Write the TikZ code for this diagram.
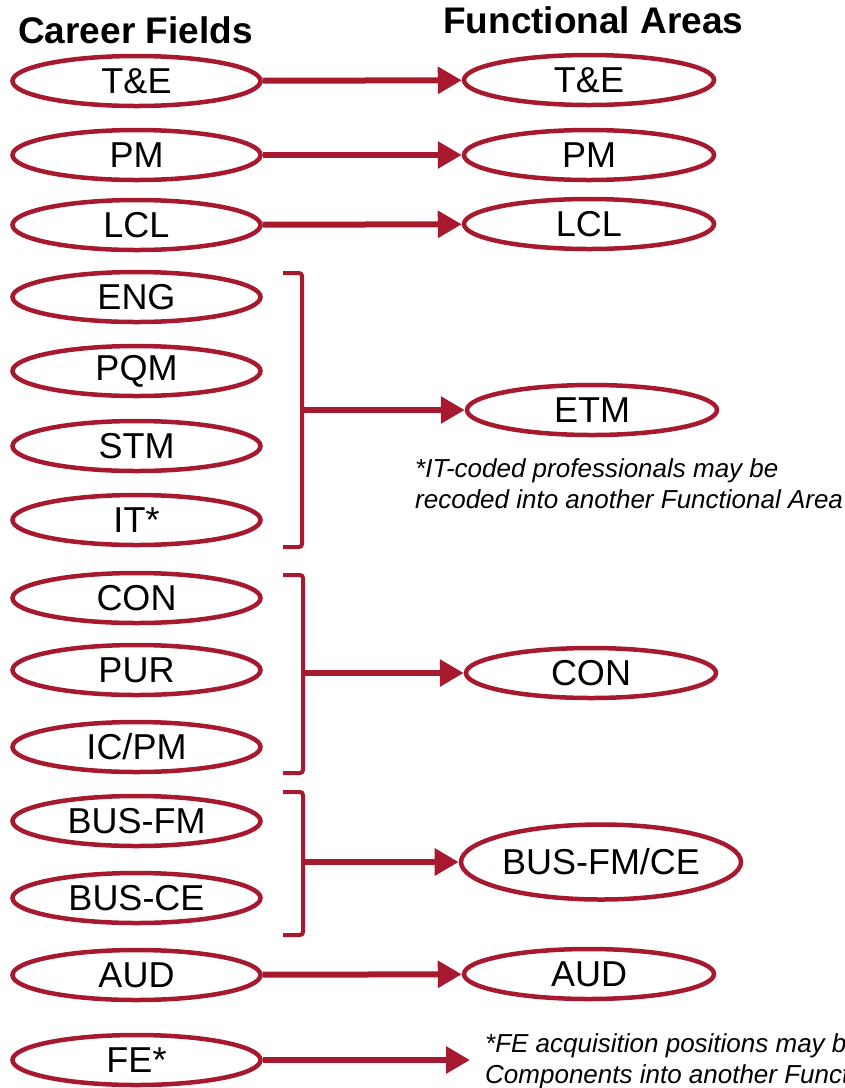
\documentclass[tikz,border=0pt]{standalone}
\usepackage{fontspec}
\setmainfont{Liberation Sans}
\usetikzlibrary{shapes.geometric,arrows.meta}
\definecolor{crimson}{RGB}{166,25,46}

\begin{document}
\begin{tikzpicture}[x=1pt,y=-1pt,
	cf/.style={ellipse,draw=crimson,line width=4.5pt,minimum width=248pt,minimum height=50pt,inner sep=0pt,font=\fontsize{36}{40}\selectfont},
	fa/.style={cf,minimum width=250pt},
	link/.style={draw=crimson,line width=6pt,-{Triangle[length=24pt,width=26pt]}},
	brace/.style={draw=crimson,line width=4pt,rounded corners=3pt},
	note/.style={align=left,anchor=base west,inner sep=0pt,font=\fontsize{26}{31}\selectfont\itshape},
	head/.style={anchor=base west,inner sep=0pt,font=\fontsize{37}{40}\selectfont\bfseries}]
	\useasboundingbox (0,0) rectangle (845,1088);
	\node[head] (cfhead) at (18,43) {Career Fields};
	\node[head] (fahead) at (443,33) {Functional Areas};
	% career fields
	\node[cf] (te) at (136.5,81) {T\&E};
	\node[cf] (pm) at (136.5,155) {PM};
	\node[cf] (lcl) at (136.5,225) {LCL};
	\node[cf] (eng) at (136.5,297) {ENG};
	\node[cf] (pqm) at (136.5,371) {PQM};
	\node[cf] (stm) at (136.5,446) {STM};
	\node[cf] (it) at (136.5,520) {IT*};
	\node[cf] (con) at (136.5,598) {CON};
	\node[cf] (pur) at (136.5,670) {PUR};
	\node[cf] (icpm) at (136.5,747) {IC/PM};
	\node[cf] (busfm) at (136.5,821) {BUS-FM};
	\node[cf] (busce) at (136.5,898) {BUS-CE};
	\node[cf] (aud) at (136.5,975) {AUD};
	\node[cf] (fe) at (136.5,1060) {FE*};
	% functional areas
	\node[fa] (fate) at (589,80) {T\&E};
	\node[fa] (fapm) at (589,155) {PM};
	\node[fa] (falcl) at (589,224) {LCL};
	\node[fa] (etm) at (592,410) {ETM};
	\node[fa] (facon) at (591,673) {CON};
	\node[fa,minimum width=263pt,minimum height=75pt] (fabus) at (601,862) {BUS-FM/CE};
	\node[fa] (faaud) at (589,974) {AUD};
	% brackets
	\draw[brace] (283,273) -- (302,273) -- (302,547) -- (283,547);
	\draw[brace] (283,575) -- (303,575) -- (303,773) -- (283,773);
	\draw[brace] (283,792) -- (303,792) -- (303,935) -- (283,935);
	\coordinate (etmfork) at (300,410);
	\coordinate (confork) at (301,673);
	\coordinate (busfork) at (301,862);
	\coordinate (feend) at (470,1060);
	\path[link] (te) -- (fate);
	\path[link] (pm) -- (fapm);
	\path[link] (lcl) -- (falcl);
	\path[link] (etmfork) -- (etm);
	\path[link] (confork) -- (facon);
	\path[link] (busfork) -- (fabus);
	\path[link] (aud) -- (faaud);
	\path[link] (fe) -- (feend);
	% footnotes
	\node[note] (itnote) at (415,508) {*IT-coded professionals may be\\recoded into another Functional Area};
	\node[note] (fenote) at (485,1083) {*FE acquisition positions may be\\Components into another Functional Area};
\end{tikzpicture}
\end{document}
